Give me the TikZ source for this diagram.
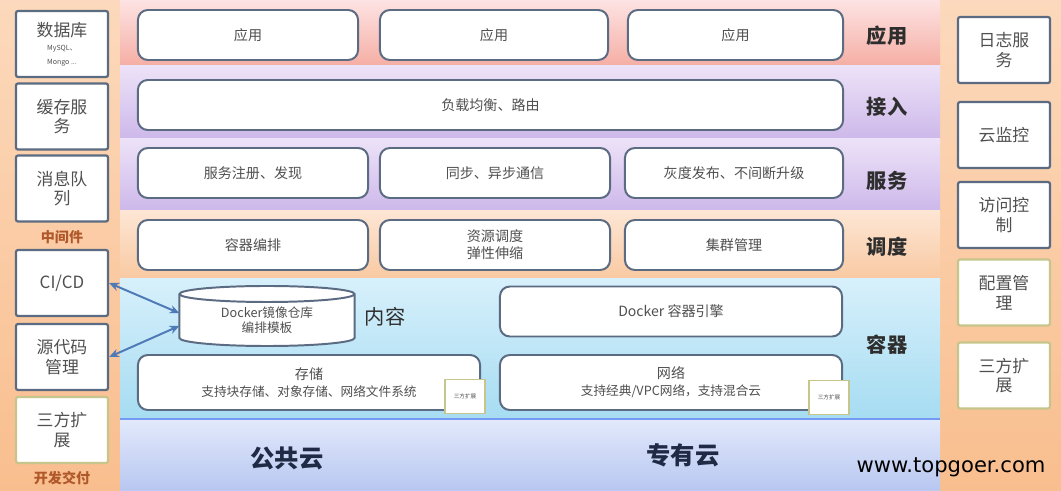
\documentclass[tikz,border=0pt]{standalone}
\usepackage{fontspec}
\setmainfont{Noto Sans CJK SC}
\newfontfamily\markfont{DejaVu Sans}
\usetikzlibrary{arrows.meta}
\definecolor{boxline}{HTML}{5B6B82}
\definecolor{extline}{HTML}{C6C68C}
\definecolor{boxtext}{HTML}{505050}
\definecolor{labeltext}{HTML}{2E2E2E}
\definecolor{linkblue}{HTML}{4F7AB8}
\definecolor{midtext}{HTML}{B0582A}
\definecolor{cloudtext}{HTML}{1F2A44}
\definecolor{sidetop}{HTML}{FCD9BC}
\definecolor{sidebot}{HTML}{F9BE8E}
\definecolor{apptop}{HTML}{FDE3E3}
\definecolor{appbot}{HTML}{F5AEA4}
\definecolor{lilactop}{HTML}{EDE2F8}
\definecolor{lilacbot}{HTML}{CDB8EA}
\definecolor{peachtop}{HTML}{FDE6D4}
\definecolor{peachbot}{HTML}{F9C9A2}
\definecolor{skytop}{HTML}{D7F0FB}
\definecolor{skybot}{HTML}{A6DCF2}
\definecolor{cloudtop}{HTML}{E2E9FB}
\definecolor{cloudbot}{HTML}{B8C7F1}
\tikzset{
  box/.style={draw=boxline, line width=1.4pt, rounded corners=7pt, fill=white, text=boxtext, minimum height=1.25cm, align=center, font=\normalsize},
  sidebox/.style={draw=boxline, line width=1.6pt, rounded corners=1.5pt, fill=white, text=boxtext, minimum width=2.3cm, minimum height=1.65cm, align=center, font=\large},
  extbox/.style={sidebox, draw=extline},
  tinybox/.style={draw=extline, line width=1.2pt, fill=white, text=boxtext, minimum width=1cm, minimum height=0.85cm, font=\fontsize{4}{5}\selectfont},
  layer/.style={text=labeltext, font=\Large\bfseries},
  group/.style={text=midtext, font=\normalsize\bfseries},
  cloud/.style={text=cloudtext, font=\LARGE\bfseries},
  link/.style={draw=linkblue, line width=1.4pt, <->, >={Stealth[length=7pt, width=6pt]}},
  repoline/.style={draw=boxline, line width=1.4pt}
}
\begin{document}
\begin{tikzpicture}[x=0.025cm, y=-0.025cm]
\useasboundingbox (0,0) rectangle (1061,491);
\shade[top color=sidetop, bottom color=sidebot] (0,0) rectangle (120,491);
\shade[top color=sidetop, bottom color=sidebot] (940,0) rectangle (1061,491);
\shade[top color=apptop, bottom color=appbot] (120,0) rectangle (940,66);
\shade[top color=lilactop, bottom color=lilacbot] (120,66) rectangle (940,139);
\shade[top color=lilactop, bottom color=lilacbot] (120,139) rectangle (940,211);
\shade[top color=peachtop, bottom color=peachbot] (120,211) rectangle (940,279);
\shade[top color=skytop, bottom color=skybot] (120,279) rectangle (940,419);
\shade[top color=cloudtop, bottom color=cloudbot] (120,419) rectangle (940,491);
\draw[skybot!70!blue, line width=1pt] (120,419) -- (940,419);

\node[box, minimum width=5.5cm] (app1) at (248,35) {应用};
\node[box, minimum width=5.7cm] (app2) at (494,35) {应用};
\node[box, minimum width=5.375cm] (app3) at (735.5,35) {应用};
\node[box, minimum width=17.625cm] (lb) at (490.5,105) {负载均衡、路由};
\node[box, minimum width=5.75cm] (reg) at (253,173) {服务注册、发现};
\node[box, minimum width=5.75cm] (comm) at (495,173) {同步、异步通信};
\node[box, minimum width=5.45cm] (gray) at (734,173) {灰度发布、不间断升级};
\node[box, minimum width=5.75cm] (orch) at (253,245) {容器编排};
\node[box, minimum width=5.75cm] (sched) at (495,245) {资源调度\\弹性伸缩};
\node[box, minimum width=5.45cm] (cluster) at (734,245) {集群管理};
\node[box, minimum width=8.55cm] (engine) at (671,311.5) {Docker 容器引擎};
\node[box, minimum width=8.55cm, minimum height=1.375cm] (store) at (309,382.5) {存储\\{\small 支持块存储、对象存储、网络文件系统\hspace{1.2cm}}};
\node[box, minimum width=8.55cm, minimum height=1.375cm] (net) at (671,382.5) {网络\\{\small 支持经典/VPC网络，支持混合云}};
\node[tinybox] (storeext) at (465,396.5) {三方扩展};
\node[tinybox] (netext) at (829,397.5) {三方扩展};

\path node[minimum width=4.375cm, minimum height=1.1cm, inner sep=0pt, outer sep=0pt] (repo) at (267,316) {};
\draw[repoline, fill=white] (repo.north west) -- (repo.south west) arc[start angle=180, end angle=360, x radius=2.1875cm, y radius=0.2cm] -- (repo.north east) arc[start angle=0, end angle=180, x radius=2.1875cm, y radius=0.2cm] -- cycle;
\draw[repoline] (repo.north west) arc[start angle=180, end angle=360, x radius=2.1875cm, y radius=0.2cm];
\node[text=boxtext, align=center, font=\small] (repotext) at ([yshift=-3pt]repo.center) {Docker镜像仓库\\编排模板};
\node[text=labeltext, font=\Large] (content) at (385,317) {内容};

\node[layer] (lapp) at (887,36) {应用};
\node[layer] (lin) at (887,107) {接入};
\node[layer] (lsvc) at (887,181) {服务};
\node[layer] (lsch) at (887,247) {调度};
\node[layer] (lctr) at (887,345) {容器};
\node[cloud] (pub) at (287,458) {公共云};
\node[cloud] (priv) at (683,455) {专有云};

\node[sidebox] (db) at (62,44) {数据库\\[-4pt]{\fontsize{5}{6}\selectfont MySQL、}\\[-4pt]{\fontsize{5}{6}\selectfont Mongo ...}};
\node[sidebox] (cache) at (62,116.5) {缓存服\\务};
\node[sidebox] (mq) at (62,188.5) {消息队\\列};
\node[group] (mid) at (62,237) {中间件};
\node[sidebox] (cicd) at (62,283) {CI/CD};
\node[sidebox] (src) at (62,357) {源代码\\管理};
\node[extbox] (devext) at (62,430) {三方扩\\展};
\node[group] (dev) at (62,478) {开发交付};

\node[sidebox] (log) at (1004,50) {日志服\\务};
\node[sidebox] (mon) at (1004,135) {云监控};
\node[sidebox] (acl) at (1004,215) {访问控\\制};
\node[extbox] (conf) at (1004,292.5) {配置管\\理};
\node[extbox] (opsext) at (1004,375.5) {三方扩\\展};

\draw[link] (cicd.east) -- ([yshift=2pt]repo.west);
\draw[link] (src.east) -- ([yshift=-7pt]repo.west);

\node[font=\markfont\fontsize{15}{18}\selectfont, text=black] (mark) at (951,467) {www.topgoer.com};
\end{tikzpicture}
\end{document}
